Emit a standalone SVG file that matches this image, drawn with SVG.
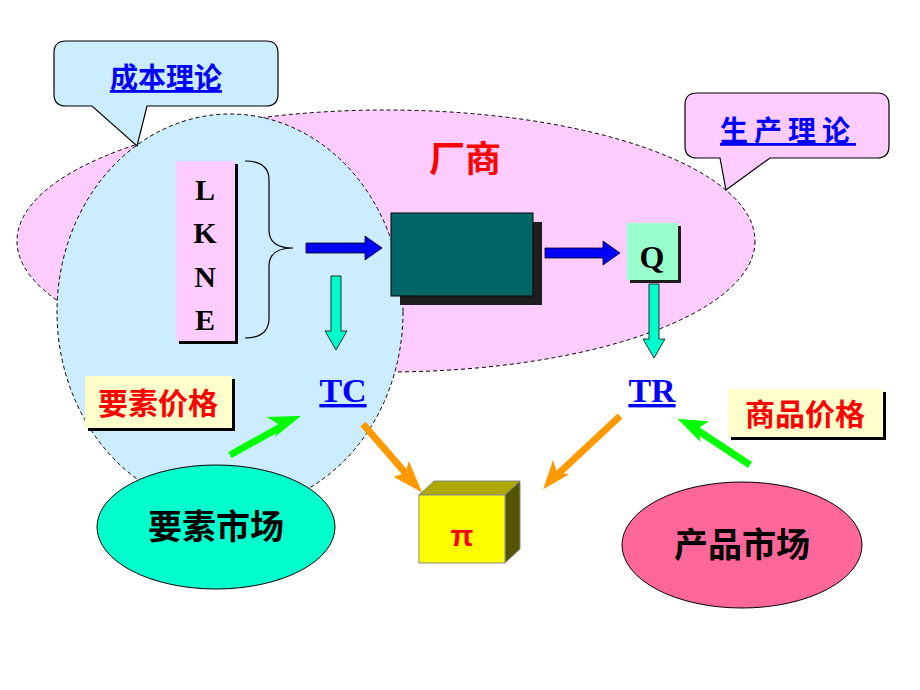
<svg xmlns="http://www.w3.org/2000/svg" width="920" height="690" viewBox="0 0 920 690">
<style>
.cj{font-family:"Liberation Sans","Noto Sans CJK SC",sans-serif;font-weight:bold}
.se{font-family:"Liberation Serif",serif;font-weight:bold}
.dash{stroke:#000;stroke-width:1;stroke-dasharray:4 3}
.call{stroke:#000;stroke-width:1.2}
</style>
<defs>
<marker id="ah" markerWidth="8" markerHeight="8" refX="6" refY="4" orient="auto" markerUnits="strokeWidth"><path d="M0,0 L8,4 L0,8 Z" fill="context-stroke"/></marker>
</defs>
<rect width="920" height="690" fill="#fff"/>
<g id="firm"><ellipse cx="386" cy="241" rx="369" ry="131" fill="#FFCCFF" class="dash"/><text x="465" y="172" class="cj" font-size="36" fill="#FF0000" text-anchor="middle">厂商</text></g>
<g id="cost-circle"><ellipse cx="230" cy="312" rx="173" ry="198" fill="#CCECFF" class="dash"/></g>
<g id="cost-theory"><path d="M66,41 H266 Q278,41 278,53 V94 Q278,106 266,106 H147 L137,146 L92,106 H66 Q54,106 54,94 V53 Q54,41 66,41 Z" fill="#CCECFF" class="call"/><text x="166" y="88" class="cj" font-size="28" fill="#0000FF" text-anchor="middle" text-decoration="underline">成本理论</text></g>
<g id="prod-theory"><path d="M697,93 H877 Q889,93 889,105 V146 Q889,158 877,158 H770 L726,190 L720,158 H697 Q685,158 685,146 V105 Q685,93 697,93 Z" fill="#FFCCFF" class="call"/><text x="788" y="141" class="cj" font-size="28" fill="#0000FF" text-anchor="middle" text-decoration="underline" letter-spacing="6">生产理论</text></g>
<g id="lkne"><rect x="179" y="164" width="59" height="180" fill="#000"/><rect x="176" y="161" width="59" height="180" fill="#FFCCFF"/>
<text class="se" font-size="30" text-anchor="middle" fill="#000"><tspan x="205" y="200">L</tspan><tspan x="205" y="243">K</tspan><tspan x="205" y="287">N</tspan><tspan x="205" y="330">E</tspan></text>
<path d="M245,161 Q269,161 269,180 V230 Q269,248 293,248 Q269,248 269,266 V318 Q269,338 245,338" fill="none" stroke="#000" stroke-width="1.2"/></g>
<g id="black-box"><rect x="400" y="222" width="142" height="83" fill="#1E1E1E"/><rect x="391" y="213" width="142" height="83" fill="#006666" stroke="#000"/></g>
<g id="q"><rect x="630" y="226" width="51" height="57" fill="#1E1E1E"/><rect x="627" y="223" width="51" height="57" fill="#99FFCC"/><text x="652" y="268" class="se" font-size="32" text-anchor="middle">Q</text></g>
<g id="tc"><text x="343" y="402" class="se" font-size="34" fill="#0000FF" text-anchor="middle" text-decoration="underline">TC</text></g>
<g id="tr"><text x="652" y="402" class="se" font-size="34" fill="#0000FF" text-anchor="middle" text-decoration="underline">TR</text></g>
<g id="factor-price"><rect x="88" y="379" width="147" height="52" fill="#000"/><rect x="85" y="376" width="147" height="52" fill="#FFFFCC"/><text x="158" y="414" class="cj" font-size="30" fill="#FF0000" text-anchor="middle">要素价格</text></g>
<g id="goods-price"><rect x="731" y="392" width="155" height="48" fill="#000"/><rect x="728" y="389" width="155" height="48" fill="#FFFFCC"/><text x="805" y="425" class="cj" font-size="30" fill="#FF0000" text-anchor="middle">商品价格</text></g>
<g id="factor-market"><ellipse cx="216" cy="527" rx="119" ry="62" fill="#00FFCC" stroke="#000"/><text x="216" y="539" class="cj" font-size="34" text-anchor="middle">要素市场</text></g>
<g id="product-market"><ellipse cx="742" cy="545" rx="120" ry="63" fill="#FF6699" stroke="#000"/><text x="742" y="557" class="cj" font-size="34" text-anchor="middle">产品市场</text></g>
<g id="profit"><path d="M419,495 L434,481 L520,481 L505,495 Z" fill="#AFA800" stroke="#888"/><path d="M505,495 L520,481 L520,549 L505,563 Z" fill="#555500" stroke="#888"/><rect x="419" y="495" width="86" height="68" fill="#FFFF00" stroke="#888"/><text x="462" y="546" font-family="Liberation Sans,sans-serif" font-weight="bold" font-size="30" fill="#FF0000" text-anchor="middle">π</text></g>
<g id="connectors">
<path d="M306,243 H365 V236 L382,248 L365,260 V253 H306 Z" fill="#0000FF" stroke="#000" stroke-width="0.8"/>
<path d="M545,248 H603 V241 L620,253 L603,265 V258 H545 Z" fill="#0000FF" stroke="#000" stroke-width="0.8"/>
<path d="M331,276 H341 V331 H347 L336,350 L325,331 H331 Z" fill="#00FFCC" stroke="#000" stroke-width="0.8"/>
<path d="M649,284 H659 V339 H665 L654,358 L643,339 H649 Z" fill="#00FFCC" stroke="#000" stroke-width="0.8"/>
<path d="M230,455 L284,425" stroke="#00FF00" stroke-width="7" fill="none"/><path d="M298,417 L270,418 L280,424 L277,434 Z" fill="#00FF00" stroke="#00FF00" stroke-width="2"/>
<path d="M750,465 L694,428" stroke="#00FF00" stroke-width="7" fill="none"/><path d="M680,420 L706,422 L697,428 L699,439 Z" fill="#00FF00" stroke="#00FF00" stroke-width="2"/>
<path d="M363,424 L408,476" stroke="#FF9900" stroke-width="7" fill="none"/><path d="M420,490 L396,477 L406,474 L409,464 Z" fill="#FF9900" stroke="#FF9900" stroke-width="2"/>
<path d="M620,416 L558,474" stroke="#FF9900" stroke-width="7" fill="none"/><path d="M545,487 L553,463 L556,473 L566,475 Z" fill="#FF9900" stroke="#FF9900" stroke-width="2"/>
</g>
</svg>
